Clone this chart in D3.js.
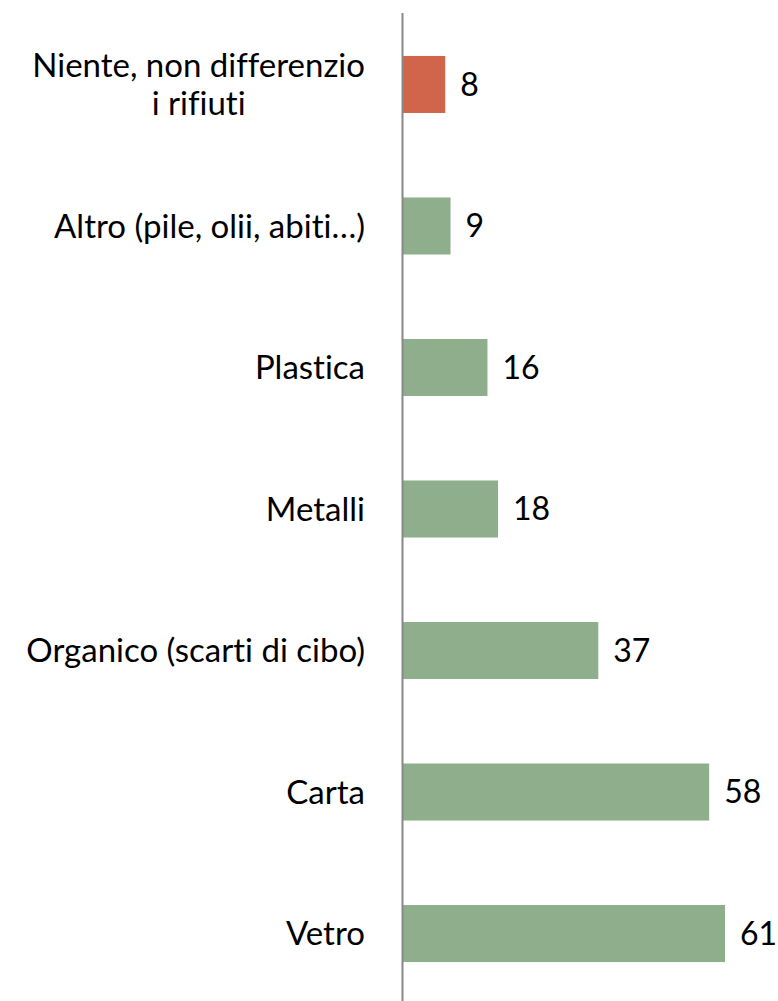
<!DOCTYPE html>
<html><head><meta charset="utf-8">
<script src="https://cdn.jsdelivr.net/npm/d3@7"></script>
<style>body{margin:0;background:#fff}svg{display:block}text{font-family:Lato,"Liberation Sans",sans-serif;font-size:33px;fill:#000;font-variant-ligatures:none}text.val{font-size:32px}</style>
</head><body><div id="chart"></div>
<script>
const categories = [["Niente, non differenzio","i rifiuti"],["Altro (pile, olii, abiti…)"],["Plastica"],["Metalli"],["Organico (scarti di cibo)"],["Carta"],["Vetro"]];
const values = [8,9,16,18,37,58,61];
const colors = ["#D0654B","#8FAE8B","#8FAE8B","#8FAE8B","#8FAE8B","#8FAE8B","#8FAE8B"];

const W=778,H=1001;
const svg=d3.select("#chart").append("svg").attr("width",W).attr("height",H);
const x0=403;
const x=d3.scaleLinear().domain([0,61]).range([x0,725]);
const y=d3.scaleBand().domain(d3.range(values.length)).range([13.5,1004.5]).paddingInner(0.597).paddingOuter(0.3);

svg.selectAll("rect.bar").data(values).join("rect").attr("class","bar")
 .attr("x",x(0)).attr("y",(d,i)=>y(i)).attr("width",d=>x(d)-x(0)).attr("height",y.bandwidth())
 .attr("fill",(d,i)=>colors[i]);

svg.append("line").attr("x1",x0-0.5).attr("x2",x0-0.5).attr("y1",13).attr("y2",1001).attr("stroke","#888").attr("stroke-width",2);

svg.selectAll("text.val").data(values).join("text").attr("class","val")
 .attr("x",d=>x(d)+15).attr("y",(d,i)=>y(i)+y.bandwidth()/2).attr("dy","0.35em").text(d=>d);

const lab=svg.selectAll("text.lab").data(categories).join("text").attr("class","lab")
 .attr("text-anchor","middle")
 .attr("y",(d,i)=>y(i)+y.bandwidth()/2);
lab.each(function(d){
  const t=d3.select(this);
  const n=d.length;
  d.forEach((s,k)=>t.append("tspan").attr("x",0).attr("dy",k===0?((0.35-(n-1)*0.58)+"em"):"1.16em").text(s));
});
lab.each(function(){
  const bb=this.getBBox();
  const t=d3.select(this);
  const cx=365-bb.width/2;
  t.selectAll("tspan").attr("x",cx);
});
</script></body></html>
